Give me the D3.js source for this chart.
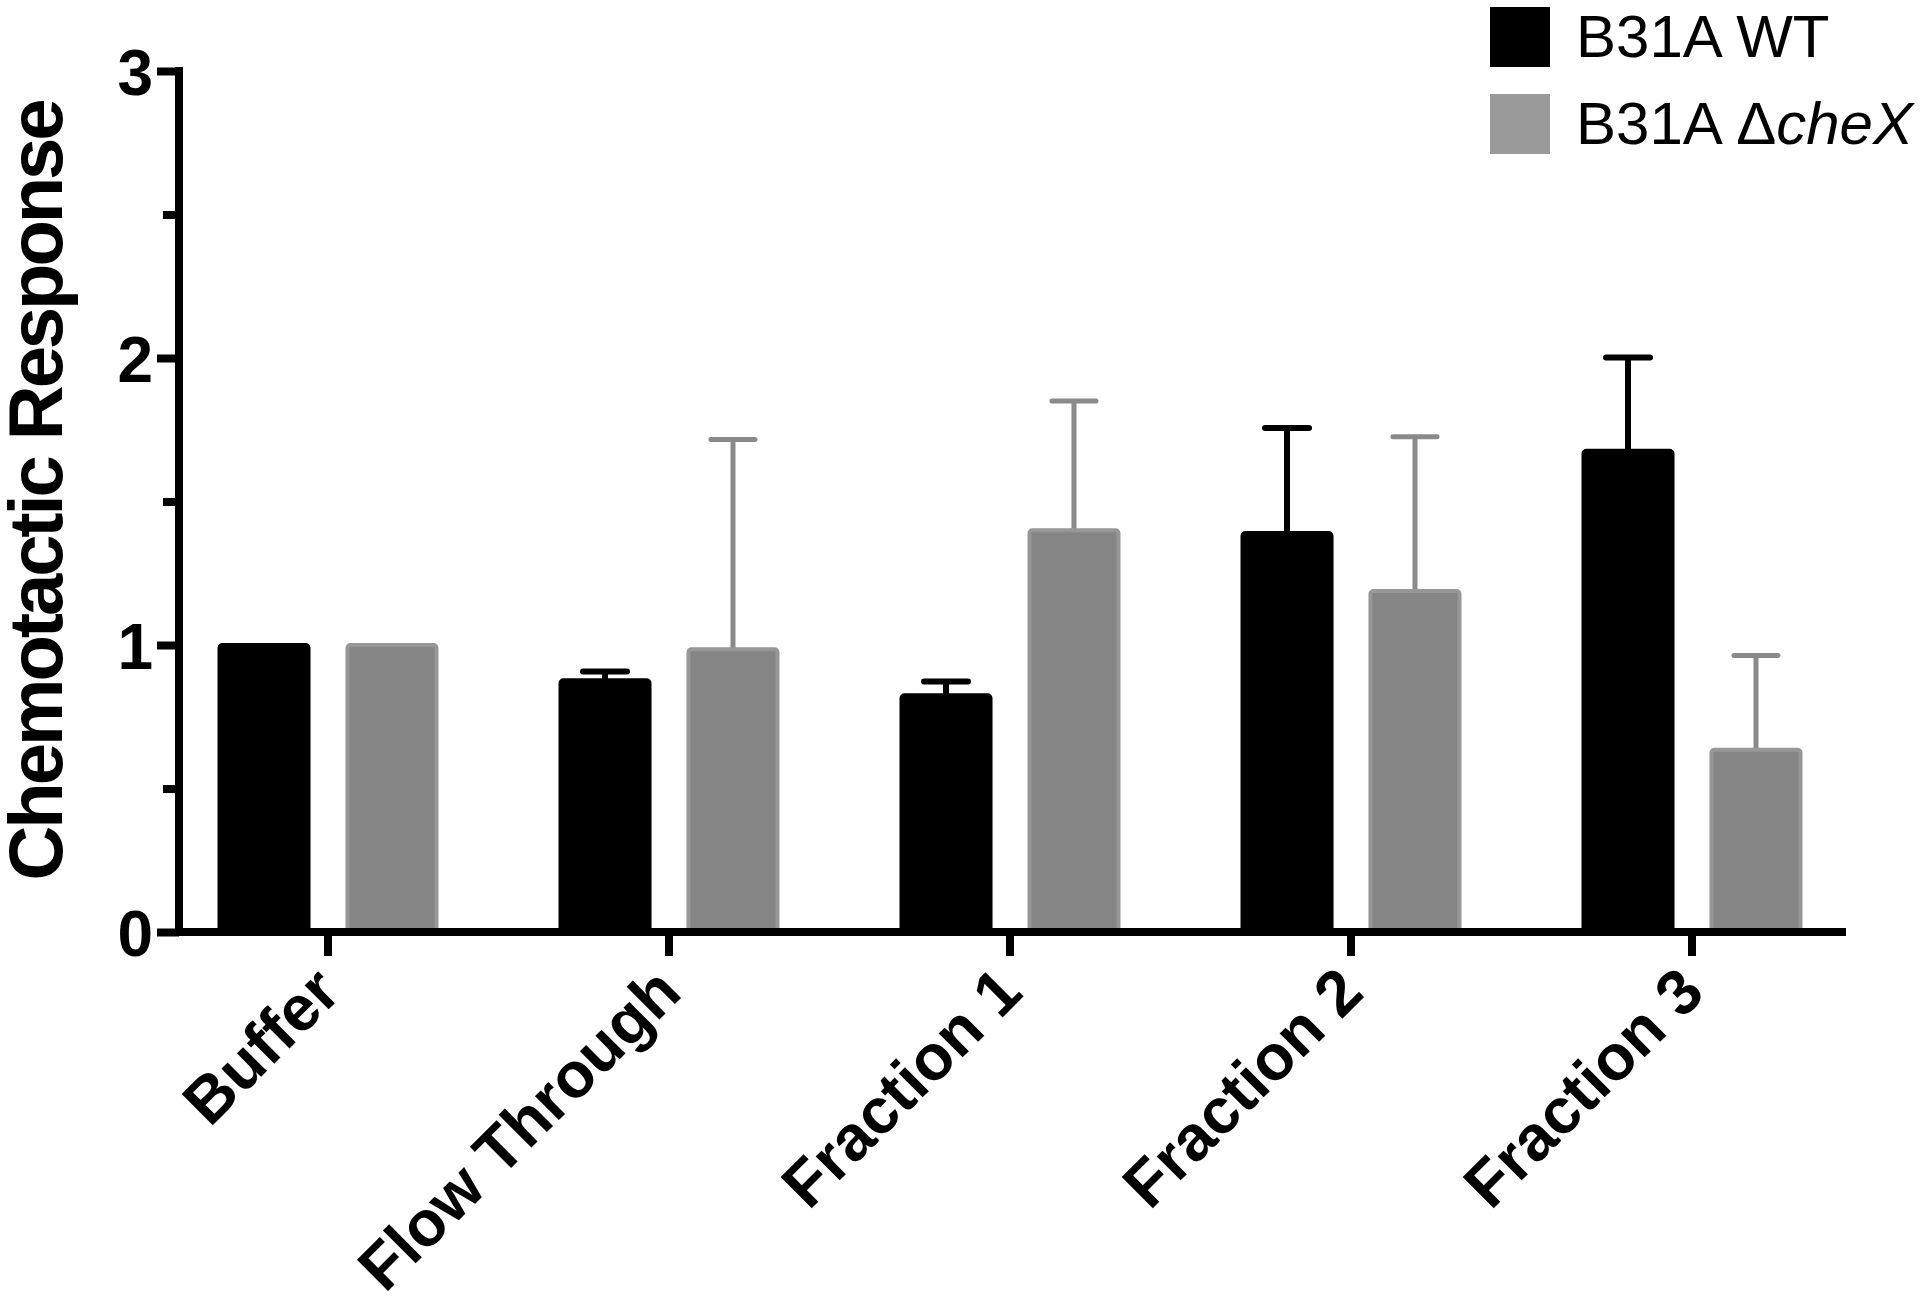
<!DOCTYPE html>
<html><head><meta charset="utf-8">
<script src="https://cdn.jsdelivr.net/npm/d3@7"></script>
<style>body{margin:0;background:#fff}svg{display:block}</style>
</head><body>
<svg id="chart" width="1920" height="1303"></svg>
<script>
const categories = ["Buffer", "Flow Through", "Fraction 1", "Fraction 2", "Fraction 3"];
const seriesNames = ["B31A WT", "B31A ΔcheX"];
const wtMean  = [1.00, 0.877, 0.825, 1.390, 1.677];
const wtSem   = [0.00, 0.031, 0.048, 0.366, 0.325];
const chexMean = [1.00, 0.985, 1.400, 1.188, 0.635];
const chexSem  = [0.00, 0.731, 0.450, 0.538, 0.328];
const yTicks = [0, 1, 2, 3];
const yMinorTicks = [0.5, 1.5, 2.5];

const svg = d3.select("#chart");
const font = "'Liberation Sans', Arial, Helvetica, sans-serif";

const y = d3.scaleLinear().domain([0, 3]).range([932, 71]);
const x = d3.scaleBand().domain(categories).range([157.5, 1862.5]).padding(0);
const xs = d3.scaleBand().domain(["wt", "chex"]).range([-110.5, 110.5]).paddingInner(0.273);

const data = categories.map((c, i) => ({
  cat: c,
  vals: [
    {key: "wt", mean: wtMean[i], sem: wtSem[i]},
    {key: "chex", mean: chexMean[i], sem: chexSem[i]}
  ]
}));

const colors = {wt: {fill: "#000", stroke: "#000", err: "#000", ew: 6},
                chex: {fill: "#858585", stroke: "#979797", err: "#8a8a8a", ew: 5}};

const groups = svg.append("g").selectAll("g").data(data).join("g")
  .attr("transform", d => `translate(${x(d.cat) + x.bandwidth() / 2},0)`);

// error bars (upper only)
groups.selectAll("g.err").data(d => d.vals.filter(v => v.sem > 0)).join("g").attr("class", "err")
  .each(function(v) {
    const g = d3.select(this);
    const cx = xs(v.key) + xs.bandwidth() / 2;
    const c = colors[v.key];
    g.append("line").attr("x1", cx).attr("x2", cx)
      .attr("y1", y(v.mean)).attr("y2", y(v.mean + v.sem))
      .attr("stroke", c.err).attr("stroke-width", c.ew);
    g.append("line").attr("x1", cx - 22).attr("x2", cx + 22)
      .attr("y1", y(v.mean + v.sem)).attr("y2", y(v.mean + v.sem))
      .attr("stroke", c.err).attr("stroke-width", c.ew).attr("stroke-linecap", "round");
  });

groups.selectAll("rect").data(d => d.vals).join("rect")
  .attr("x", v => xs(v.key) + 2)
  .attr("width", xs.bandwidth() - 4)
  .attr("y", v => y(v.mean))
  .attr("height", v => y(0) - y(v.mean))
  .attr("rx", 3)
  .attr("fill", v => colors[v.key].fill)
  .attr("stroke", v => colors[v.key].stroke)
  .attr("stroke-width", 4);

// Y axis
const yAxis = svg.append("g").attr("transform", "translate(179,0)")
  .call(d3.axisLeft(y).tickValues(yTicks).tickSize(22).tickPadding(4).tickFormat(d3.format("d")));
yAxis.select(".domain").remove();
yAxis.selectAll(".tick line").attr("stroke", "#000").attr("stroke-width", 8);
yAxis.selectAll(".tick text").attr("font-family", font).attr("font-weight", "bold")
  .attr("font-size", 64).attr("fill", "#000").attr("dy", "0.36em");
const yMinor = svg.append("g").attr("transform", "translate(179,0)")
  .call(d3.axisLeft(y).tickValues(yMinorTicks).tickSize(16).tickFormat(""));
yMinor.select(".domain").remove();
yMinor.selectAll(".tick line").attr("stroke", "#000").attr("stroke-width", 8);
svg.append("line").attr("x1", 179).attr("x2", 179).attr("y1", 67).attr("y2", 936)
  .attr("stroke", "#000").attr("stroke-width", 8);

// X axis
const xAxis = svg.append("g").attr("transform", "translate(0,932)")
  .call(d3.axisBottom(x).tickSize(24).tickPadding(0));
xAxis.select(".domain").remove();
xAxis.selectAll(".tick line").attr("stroke", "#000").attr("stroke-width", 8);
xAxis.selectAll(".tick text")
  .attr("font-family", font).attr("font-weight", "bold").attr("font-size", 64).attr("fill", "#000")
  .attr("text-anchor", "end").attr("dy", null).attr("y", 0)
  .attr("transform", "translate(15,63) rotate(-45)");
svg.append("line").attr("x1", 175).attr("x2", 1846).attr("y1", 932).attr("y2", 932)
  .attr("stroke", "#000").attr("stroke-width", 8);

// Y label
const yl = svg.append("text").attr("transform", "translate(62,491) rotate(-90)")
  .attr("text-anchor", "middle").attr("font-family", font).attr("font-weight", "bold")
  .attr("font-size", 76).attr("fill", "#000").text("Chemotactic Response");
const len = yl.node().getComputedTextLength();
const target = 782;
yl.attr("letter-spacing", (target - len) / 19);

// Legend
const legend = svg.append("g");
const legItems = [{name: "B31A WT", fill: "#000", y: 7}, {name: "B31A ΔcheX", fill: "#9a9a9a", y: 94}];
legend.selectAll("rect").data(legItems).join("rect")
  .attr("x", 1490).attr("y", d => d.y).attr("width", 60).attr("height", 60).attr("fill", d => d.fill);
const lt = legend.selectAll("text").data(legItems).join("text")
  .attr("x", 1576).attr("y", d => d.y + 50)
  .attr("font-family", font).attr("font-size", 60).attr("fill", "#000");
lt.each(function(d, i) {
  const t = d3.select(this);
  if (i === 0) { t.text(d.name); }
  else {
    t.append("tspan").text("B31A Δ");
    t.append("tspan").attr("font-style", "italic").text("cheX");
  }
});
</script>
</body></html>
